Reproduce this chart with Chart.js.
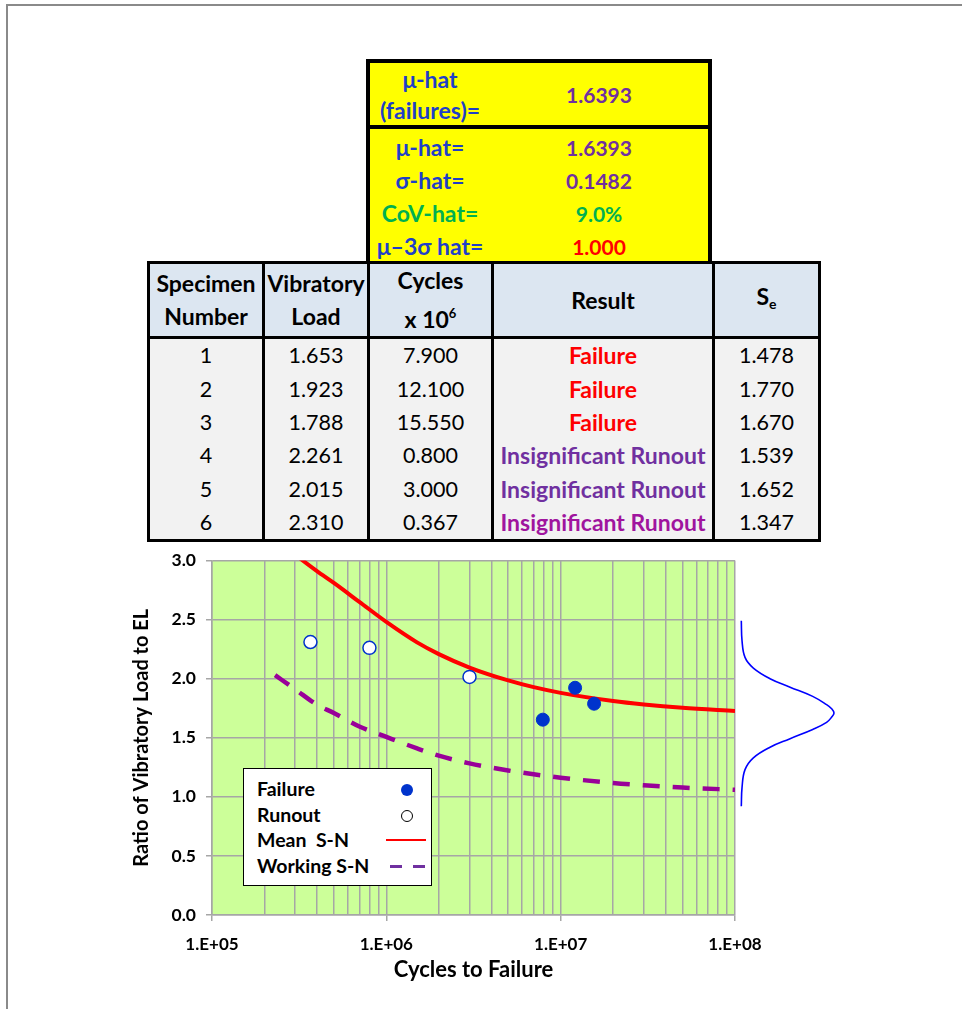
<!DOCTYPE html>
<html>
<head>
<meta charset="utf-8">
<script src="https://cdn.jsdelivr.net/npm/chart.js@4.4.1/dist/chart.umd.min.js"></script>
<style>
  html, body { margin: 0; padding: 0; background: #fff; }
  body { width: 962px; height: 1009px; position: relative; overflow: hidden;
         font-family: Lato, "DejaVu Sans", sans-serif; }
  #frame { position: absolute; left: 6px; top: 4px; width: 1100px; height: 1200px;
           border-left: 2px solid #8a8a8a; border-top: 2px solid #8a8a8a; }
  .stat { position: absolute; left: 366px; width: 338px; background: #FFFF00;
          border: 4px solid #000; font-weight: bold; }
  .stat .lbl, .stat .val { position: absolute; text-align: center; line-height: 33px; }
  .stat .lbl { left: 0; width: 120px; color: #1F3FC8; font-size: 23px; }
  .stat .val { left: 120px; width: 218px; color: #7030A0; font-size: 21px; }
  #spec { position: absolute; left: 147px; top: 261px; border-collapse: collapse;
          table-layout: fixed; font-size: 21.5px; }
  #spec th, #spec td { border-left: 3px solid #000; border-right: 3px solid #000;
          text-align: center; padding: 0; white-space: nowrap; }
  #spec th { background: #DCE6F1; border-top: 3px solid #000; border-bottom: 3px solid #000;
          height: 71px; font-weight: bold; line-height: 33px; font-size: 23px; }
  #spec td { background: #F2F2F2; height: 33.4px; line-height: 33px; }
  #spec tr:last-child td { border-bottom: 3px solid #000; }
  #spec td.res { font-weight: bold; font-size: 23px; }
  #spec sup { font-size: 13px; vertical-align: 10px; }
  #spec sub { font-size: 14px; vertical-align: -4px; }
  #sn { position: absolute; left: 0; top: 540px; }
  #key { position: absolute; left: 243px; top: 768px; width: 187px; height: 116px;
         background: #fff; border: 1px solid #000; font-weight: bold; font-size: 19.5px; }
  #key .t { position: absolute; left: 13px; line-height: 22px; }
  #key .m { position: absolute; }
</style>
</head>
<body>
<div id="frame"></div>

<div class="stat" id="stat1" style="top:59px; height:62px;"></div>
<div class="stat" id="stat2" style="top:125px; height:132px;"></div>

<table id="spec">
  <colgroup>
    <col style="width:115px"><col style="width:105px"><col style="width:124px">
    <col style="width:221px"><col style="width:106px">
  </colgroup>
  <thead>
    <tr>
      <th>Specimen<br>Number</th>
      <th>Vibratory<br>Load</th>
      <th>Cycles<br>x 10<sup>6</sup></th>
      <th>Result</th>
      <th>S<sub>e</sub></th>
    </tr>
  </thead>
  <tbody id="rows"></tbody>
</table>

<canvas id="sn" width="962" height="469"></canvas>

<div id="key">
  <div class="t" style="top:9px">Failure</div>
  <div class="t" style="top:35px">Runout</div>
  <div class="t" style="top:60px">Mean&nbsp; S-N</div>
  <div class="t" style="top:86px">Working S-N</div>
  <div class="m" style="left:157px; top:15px; width:12px; height:12px; border-radius:50%; background:#0033CC;"></div>
  <div class="m" style="left:157px; top:41px; width:10px; height:10px; border-radius:50%; background:#fff; border:1.5px solid #000;"></div>
  <div class="m" style="left:142px; top:70px; width:40px; height:0; border-top:2.5px solid #FF0000;"></div>
  <div class="m" style="left:146px; top:96px; width:12px; height:0; border-top:3px solid #7030A0;"></div>
  <div class="m" style="left:169px; top:96px; width:12px; height:0; border-top:3px solid #7030A0;"></div>
</div>

<script>
// Summary statistics shown in the yellow block
const MU_HAT_FAILURES = '1.6393';
const STAT_LABELS = ['μ-hat=', 'σ-hat=', 'CoV-hat=', 'μ–3σ hat='];
const STAT_VALUES = ['1.6393', '0.1482', '9.0%', '1.000'];
const STAT_LABEL_INK = ['#1F3FC8', '#1F3FC8', '#00B050', '#1F3FC8'];
const STAT_VALUE_INK = ['#7030A0', '#7030A0', '#00B050', '#FF0000'];

// Specimen test records
const SPECIMENS = [1, 2, 3, 4, 5, 6];
const LOADS = [1.653, 1.923, 1.788, 2.261, 2.015, 2.310];
const CYCLES_M = [7.900, 12.100, 15.550, 0.800, 3.000, 0.367];
const RESULTS = ['Failure', 'Failure', 'Failure', 'Insignificant Runout', 'Insignificant Runout', 'Insignificant Runout'];
const SE = [1.478, 1.770, 1.670, 1.539, 1.652, 1.347];
const RESULT_INK = ['#FF0000', '#FF0000', '#FF0000', '#7030A0', '#7030A0', '#A0159E'];

// S-N curves (cycles, load ratio)
const SN_CYCLES = [2.3e5, 3e5, 4e5, 5e5, 7e5, 1e6, 1.5e6, 2e6, 3e6, 5e6, 7e6, 1e7, 2e7, 3e7, 5e7, 1e8];
const MEAN_SN = [3.19, 3.05, 2.91, 2.81, 2.65, 2.48, 2.307, 2.208, 2.094, 1.985, 1.928, 1.880, 1.811, 1.782, 1.754, 1.727];
const WORKING_SN = [2.03, 1.91, 1.78, 1.71, 1.595, 1.507, 1.41, 1.348, 1.283, 1.223, 1.191, 1.162, 1.117, 1.098, 1.078, 1.06];

// Endurance distribution at the end of the mean curve (load, relative density)
const DIST_LOAD = [2.49, 2.32, 2.18, 2.09, 2.00, 1.93, 1.85, 1.78, 1.745, 1.71, 1.675, 1.63, 1.57, 1.49, 1.42, 1.33, 1.23, 1.08, 0.92];
const DIST_DENSITY = [0, 0.008, 0.04, 0.13, 0.31, 0.52, 0.77, 0.92, 0.975, 1.0, 0.975, 0.92, 0.77, 0.52, 0.31, 0.13, 0.04, 0.008, 0];

// Axis ticks
const X_DECADES = [1e5, 1e6, 1e7, 1e8];
const X_MINOR_STEPS = [2, 3, 4, 5, 6, 7, 8, 9];
const Y_TICKS = [0, 0.5, 1.0, 1.5, 2.0, 2.5, 3.0];

// ---- yellow statistics block ----
document.getElementById('stat1').innerHTML =
  '<div class="lbl" style="top:0">μ-hat</div>' +
  '<div class="lbl" style="top:33px; line-height:28px">(failures)=</div>' +
  '<div class="val" style="top:15px">' + MU_HAT_FAILURES + '</div>';
document.getElementById('stat2').innerHTML = STAT_LABELS.map((l, i) =>
  '<div class="lbl" style="top:' + (2 + i * 33) + 'px; color:' + STAT_LABEL_INK[i] + '">' + l + '</div>' +
  '<div class="val" style="top:' + (2 + i * 33) + 'px; color:' + STAT_VALUE_INK[i] + '">' + STAT_VALUES[i] + '</div>'
).join('');

// ---- specimen table ----
document.getElementById('rows').innerHTML = SPECIMENS.map((s, i) =>
  '<tr><td>' + s + '</td><td>' + LOADS[i].toFixed(3) + '</td><td>' + CYCLES_M[i].toFixed(3) +
  '</td><td class="res" style="color:' + RESULT_INK[i] + '">' + RESULTS[i] + '</td><td>' +
  SE[i].toFixed(3) + '</td></tr>'
).join('');

// ---- chart ----
const failurePts = [], runoutPts = [];
SPECIMENS.forEach((s, i) => {
  const p = { x: CYCLES_M[i] * 1e6, y: LOADS[i] };
  (RESULTS[i] === 'Failure' ? failurePts : runoutPts).push(p);
});
const meanPts = SN_CYCLES.map((n, i) => ({ x: n, y: MEAN_SN[i] }));
const workPts = SN_CYCLES.map((n, i) => ({ x: n, y: WORKING_SN[i] }));
const distPts = DIST_LOAD.map((v, i) => ({ x: DIST_DENSITY[i], y: v }));

const isDecade = v => X_DECADES.some(d => Math.abs(v - d) < d * 1e-6);
const GRID = '#A6A6A6';
const FONT = 'Lato, "DejaVu Sans", sans-serif';

const plotBackground = {
  id: 'plotBackground',
  beforeDraw(chart) {
    const { ctx, chartArea: a } = chart;
    ctx.save();
    ctx.fillStyle = '#CCFF99';
    ctx.fillRect(a.left, a.top, a.right - a.left, a.bottom - a.top);
    ctx.restore();
  }
};

new Chart(document.getElementById('sn'), {
  type: 'scatter',
  data: {
    datasets: [
      { label: 'Failure', data: failurePts, pointRadius: 6.5, pointBackgroundColor: '#0033CC',
        pointBorderColor: '#0033CC', pointBorderWidth: 1, order: 0 },
      { label: 'Runout', data: runoutPts, pointRadius: 6.5, pointBackgroundColor: '#FFFFFF',
        pointBorderColor: '#0033CC', pointBorderWidth: 1.5, order: 0 },
      { label: 'Mean S-N', type: 'line', data: meanPts, showLine: true, borderColor: '#FF0000',
        borderWidth: 4, pointRadius: 0, cubicInterpolationMode: 'monotone', fill: false, order: 1 },
      { label: 'Working S-N', type: 'line', data: workPts, showLine: true, borderColor: '#990099',
        borderWidth: 4.5, borderDash: [17, 13], pointRadius: 0, cubicInterpolationMode: 'monotone',
        fill: false, order: 1 },
      { label: 'Distribution', type: 'line', data: distPts, xAxisID: 'xd', showLine: true,
        borderColor: '#0000FF', borderWidth: 1.6, pointRadius: 0, tension: 0.4, fill: false,
        clip: false, order: 2 }
    ]
  },
  options: {
    responsive: false,
    animation: false,
    events: [],
    layout: { padding: { left: 120, right: 227, top: 13, bottom: 0 } },
    plugins: { legend: { display: false }, tooltip: { enabled: false } },
    scales: {
      x: {
        type: 'logarithmic', min: 1e5, max: 1e8,
        afterBuildTicks: s => {
          const t = [];
          X_DECADES.forEach((d, k) => {
            t.push({ value: d, major: true });
            if (k < X_DECADES.length - 1) X_MINOR_STEPS.forEach(m => t.push({ value: d * m }));
          });
          s.ticks = t;
        },
        afterFit: s => { s.height = 94; },
        grid: { color: GRID, lineWidth: 1.5, tickLength: 6,
                tickColor: c => (c.tick && isDecade(c.tick.value)) ? GRID : 'rgba(0,0,0,0)' },
        border: { color: GRID, width: 1.5 },
        ticks: {
          autoSkip: false, maxRotation: 0, padding: 13, color: '#000',
          font: { family: FONT, size: 17, weight: 'bold' },
          callback: v => isDecade(v) ? '1.E+' + String(Math.round(Math.log10(v))).padStart(2, '0') : ''
        },
        title: { display: true, text: 'Cycles to Failure', color: '#000',
                 font: { family: FONT, size: 22, weight: 'bold' }, padding: { top: 2, bottom: 26 } }
      },
      y: {
        min: 0, max: 3,
        afterBuildTicks: s => { s.ticks = Y_TICKS.map(v => ({ value: v })); },
        afterFit: s => { s.width = 92; },
        grid: { color: GRID, lineWidth: 1.5, tickLength: 6, tickColor: GRID },
        border: { color: GRID, width: 1.5 },
        ticks: { padding: 10, color: '#000', font: { family: FONT, size: 17.5, weight: 'bold' },
                 callback: v => Number(v).toFixed(1) },
        title: { display: true, text: 'Ratio of Vibratory Load to EL', color: '#000',
                 font: { family: FONT, size: 20, weight: 'bold' }, padding: { top: 10, bottom: 0 } }
      },
      xd: { type: 'linear', display: false, min: -5.71, max: -0.068 }
    }
  },
  plugins: [plotBackground]
});
</script>
</body>
</html>
